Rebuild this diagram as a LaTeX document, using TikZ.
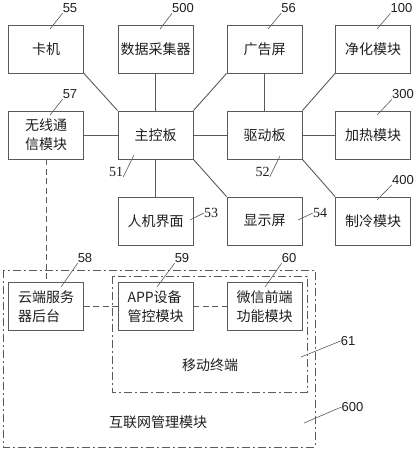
\documentclass[tikz,border=0pt]{standalone}
\usepackage{fontspec}
\newfontfamily\cjk{Noto Sans CJK SC}
\newfontfamily\numsf{Liberation Sans}
\newfontfamily\numrm{Liberation Serif}
\definecolor{linec}{HTML}{5A5A5A}
\definecolor{textc}{HTML}{1E1E1E}
\begin{document}
\begin{tikzpicture}[x=1pt,y=-1pt,
  box/.style={draw=linec, line width=0.9pt, minimum width=75pt, minimum height=48pt,
    inner sep=0pt, font=\cjk\fontsize{14}{19}\selectfont, align=left, text=textc},
  txt/.style={font=\cjk\fontsize{14}{19}\selectfont, inner sep=0pt, text=textc},
  num/.style={font=\numsf\fontsize{13}{13}\selectfont, inner sep=0pt, text=textc},
  numr/.style={font=\numrm\fontsize{14}{14}\selectfont, inner sep=0pt, text=textc},
  lead/.style={draw=linec, line width=0.6pt},
  conn/.style={draw=linec, line width=0.9pt},
  dashc/.style={draw=linec, line width=0.9pt, dash pattern=on 6pt off 3.5pt},
  frame/.style={draw=linec, line width=0.9pt, dash pattern=on 8pt off 3pt on 2pt off 3pt}]
\useasboundingbox (0,0) rectangle (414,450);
% frames
\draw[frame] (3,270) rectangle (315,447);
\draw[frame] (112,276) rectangle (307,392);
% boxes
\node[box] (ka) at (46,49) {卡机};
\node[box] (sj) at (155.5,49) {数据采集器};
\node[box] (gg) at (264.5,49) {广告屏};
\node[box] (jh) at (373,49) {净化模块};
\node[box] (wx) at (46,135) {无线通\\信模块};
\node[box] (zk) at (155.5,135) {主控板};
\node[box] (qd) at (264.5,135) {驱动板};
\node[box] (jr) at (373,135) {加热模块};
\node[box] (rj) at (155.5,221) {人机界面};
\node[box] (xs) at (264.5,221) {显示屏};
\node[box] (zl) at (373,221) {制冷模块};
\node[box] (yd) at (46,306.5) {云端服务\\器后台};
\node[box] (app) at (155.5,306.5) {APP设备\\管控模块};
\node[box] (wc) at (264.5,306.5) {微信前端\\功能模块};
\node[txt] (ydzd) at (210,365) {移动终端};
\node[txt] (hlw) at (158,422) {互联网管理模块};
% connectors
\draw[conn] (ka.south east) -- (zk.north west);
\draw[conn] (sj.south) -- (zk.north);
\draw[conn] (gg.south west) -- (zk.north east);
\draw[conn] (gg.south) -- (qd.north);
\draw[conn] (jh.south west) -- (qd.north east);
\draw[conn] (wx.east) -- (zk.west);
\draw[conn] (zk.east) -- (qd.west);
\draw[conn] (qd.east) -- (jr.west);
\draw[conn] (zk.south) -- (rj.north);
\draw[conn] (zk.south east) -- (xs.north west);
\draw[conn] (qd.south east) -- (zl.north west);
\draw[dashc] (wx.south) -- (yd.north);
\draw[dashc] (yd.east) -- (app.west);
\draw[dashc] (app.east) -- (wc.west);
% labels
\node[num] (n55) at (70,8.5) {55};
\node[num] (n500) at (183,8.5) {500};
\node[num] (n56) at (288.5,8.5) {56};
\node[num] (n100) at (401.5,8.5) {100};
\node[num] (n57) at (70,94.5) {57};
\node[num] (n300) at (403,94.5) {300};
\node[numr] (n51) at (116,172) {51};
\node[numr] (n52) at (262.5,172) {52};
\node[numr] (n53) at (211,213) {53};
\node[numr] (n54) at (320,213) {54};
\node[num] (n400) at (403,180) {400};
\node[num] (n58) at (85,258.5) {58};
\node[num] (n59) at (182,258.5) {59};
\node[num] (n60) at (289,258.5) {60};
\node[num] (n61) at (348,341) {61};
\node[num] (n600) at (352.5,407) {600};
\coordinate (p55) at (50,29);
\coordinate (p500) at (160,29);
\coordinate (p56) at (268,29);
\coordinate (p100) at (377,29);
\coordinate (p57) at (50,115);
\coordinate (p300) at (377,115);
\coordinate (p51) at (134,155);
\coordinate (p52) at (280,156);
\coordinate (p53) at (190,220);
\coordinate (p54) at (298,220);
\coordinate (p400) at (377,200);
\coordinate (p58) at (61,287);
\coordinate (p59) at (157,287);
\coordinate (p60) at (265,287);
\coordinate (p61) at (301,357);
\coordinate (p600) at (304,423);
\foreach \n in {55,500,56,100,57,300,400,58,59,60}
  \draw[lead] (p\n) -- (n\n.south west);
\draw[lead] (n51.south east) -- (p51);
\draw[lead] (n52.south east) -- (p52);
\draw[lead] (p53) -- (n53.west);
\draw[lead] (p54) -- (n54.west);
\draw[lead] (p61) -- (n61.west);
\draw[lead] (p600) -- (n600.west);
\end{tikzpicture}
\end{document}
